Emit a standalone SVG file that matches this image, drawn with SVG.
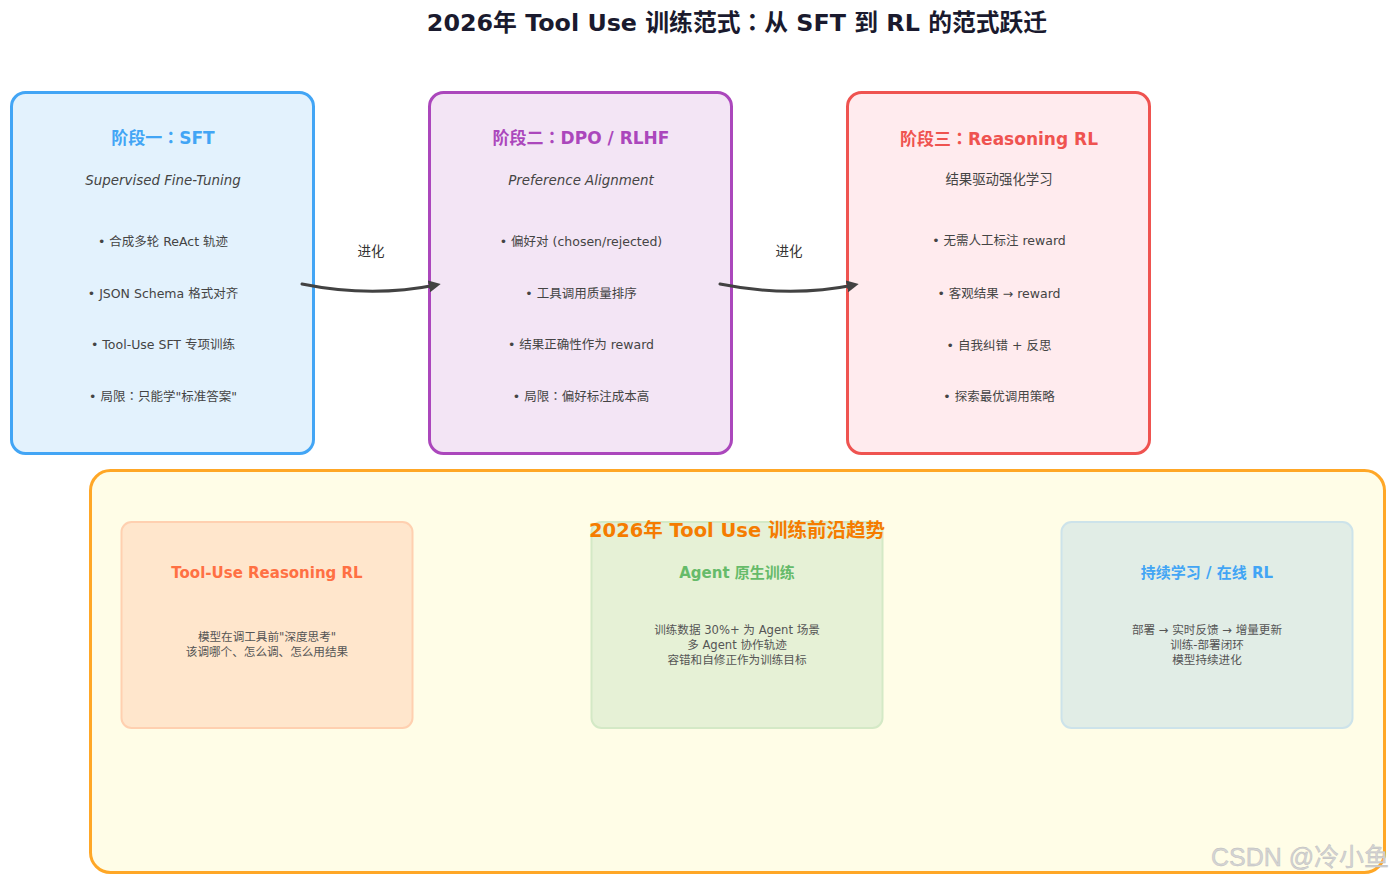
<svg xmlns="http://www.w3.org/2000/svg" width="1395" height="880" viewBox="0 0 1395 880">
<style>
text{font-family:"DejaVu Sans","Noto Sans CJK SC",sans-serif;text-anchor:middle}
.cjk{font-family:"Noto Sans CJK TC",sans-serif}
.title{font-size:23.8px;font-weight:bold;fill:#1a1a2e}
.st{font-size:17px;font-weight:bold}
.sub{font-size:13.4px;fill:#444}
.it{font-style:italic}
.b{font-size:12.5px;fill:#444}
.lbl{font-size:13.5px;fill:#333}
.card{stroke-width:3}
.tt{font-size:15px;font-weight:bold}
.tb{font-size:11.6px;fill:#555}
.conn{fill:none;stroke:#424242;stroke-width:3;stroke-linecap:round}
</style>
<defs>
<marker id="ah" viewBox="0 0 10 10" refX="6" refY="5" markerWidth="4" markerHeight="4" orient="auto">
<path d="M0,0 L10,5 L0,10 z" fill="#424242"/>
</marker>
</defs>
<rect width="1395" height="880" fill="#fff"/>
<text class="title" x="737" y="31">2026年 Tool Use 训练范式<tspan class="cjk">：</tspan>从 SFT 到 RL 的范式跃迁</text>

<g id="stage1">
<rect class="card" x="11.5" y="92.5" width="302" height="361" rx="14" fill="#E3F2FD" stroke="#42A5F5"/>
<text class="st" x="163" y="144" fill="#42A5F5">阶段一<tspan class="cjk">：</tspan>SFT</text>
<text class="sub it" x="163" y="185">Supervised Fine-Tuning</text>
<text class="b" x="163" y="246">• 合成多轮 ReAct 轨迹</text>
<text class="b" x="163" y="298">• JSON Schema 格式对齐</text>
<text class="b" x="163" y="349">• Tool-Use SFT 专项训练</text>
<text class="b" x="163" y="401">• 局限<tspan class="cjk">：</tspan>只能学"标准答案"</text>
</g>

<g id="stage2">
<rect class="card" x="429.5" y="92.5" width="302" height="361" rx="14" fill="#F3E5F5" stroke="#AB47BC"/>
<text class="st" x="581" y="144" fill="#AB47BC">阶段二<tspan class="cjk">：</tspan>DPO / RLHF</text>
<text class="sub it" x="581" y="185">Preference Alignment</text>
<text class="b" x="581" y="246">• 偏好对 (chosen/rejected)</text>
<text class="b" x="581" y="298">• 工具调用质量排序</text>
<text class="b" x="581" y="349">• 结果正确性作为 reward</text>
<text class="b" x="581" y="401">• 局限<tspan class="cjk">：</tspan>偏好标注成本高</text>
</g>

<g id="stage3">
<rect class="card" x="847.5" y="92.5" width="302" height="361" rx="14" fill="#FFEBEE" stroke="#EF5350"/>
<text class="st" x="999" y="145" fill="#EF5350">阶段三<tspan class="cjk">：</tspan>Reasoning RL</text>
<text class="sub" x="999" y="184">结果驱动强化学习</text>
<text class="b" x="999" y="245">• 无需人工标注 reward</text>
<text class="b" x="999" y="298">• 客观结果 → reward</text>
<text class="b" x="999" y="350">• 自我纠错 + 反思</text>
<text class="b" x="999" y="401">• 探索最优调用策略</text>
</g>

<g id="connectors">
<path class="conn" d="M302,284 Q371,298 436,285" marker-end="url(#ah)"/>
<text class="lbl" x="371" y="256">进化</text>
<path class="conn" d="M720,284 Q789,298 854,285" marker-end="url(#ah)"/>
<text class="lbl" x="789" y="256">进化</text>
</g>

<g id="trends">
<rect x="90.5" y="470.5" width="1294" height="402" rx="20" fill="#FFFDE7" stroke="#FFA726" stroke-width="3"/>
</g>

<g id="trend1">
<rect x="121.5" y="522" width="291" height="206" rx="10" fill="#FFE6CC" stroke="#FFD0B0" stroke-width="2"/>
<text class="tt" x="267" y="578" fill="#FF7043">Tool-Use Reasoning RL</text>
<text class="tb" x="267" y="641">模型在调工具前"深度思考"</text>
<text class="tb" x="267" y="656">该调哪个、怎么调、怎么用结果</text>
</g>

<g id="trend2">
<rect x="591.5" y="522" width="291" height="206" rx="10" fill="#E6F1D6" stroke="#D4E9C6" stroke-width="2"/>
<text class="tt" x="737" y="578" fill="#66BB6A">Agent 原生训练</text>
<text class="tb" x="737" y="634">训练数据 30%+ 为 Agent 场景</text>
<text class="tb" x="737" y="649">多 Agent 协作轨迹</text>
<text class="tb" x="737" y="664">容错和自修正作为训练目标</text>
</g>

<g id="trend3">
<rect x="1061.5" y="522" width="291" height="206" rx="10" fill="#E1EDE6" stroke="#CDE3EA" stroke-width="2"/>
<text class="tt" x="1207" y="578" fill="#42A5F5">持续学习 / 在线 RL</text>
<text class="tb" x="1207" y="634">部署 → 实时反馈 → 增量更新</text>
<text class="tb" x="1207" y="649">训练-部署闭环</text>
<text class="tb" x="1207" y="664">模型持续进化</text>
</g>

<text x="737" y="537" font-size="19.5" font-weight="bold" fill="#F57C00">2026年 Tool Use 训练前沿趋势</text>

<text x="1300" y="866" font-size="25" fill="#d4d4d4" stroke="#bbb" stroke-width="0.4" style="font-family:'Liberation Sans','Noto Sans CJK SC',sans-serif">CSDN @冷小鱼</text>
</svg>
